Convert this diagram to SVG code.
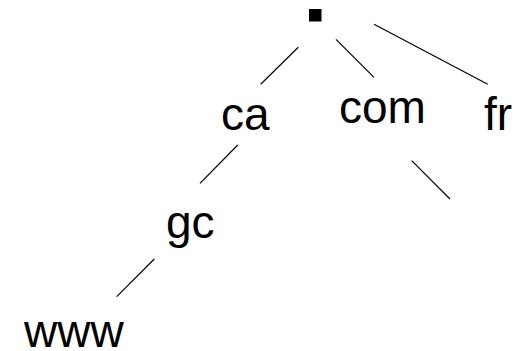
<svg xmlns="http://www.w3.org/2000/svg" width="515" height="351" viewBox="0 0 515 351">
  <style>
    .lbl { font-family: "Liberation Sans", Arial, sans-serif; font-size: 46px; fill: #000; }
    .edge { stroke: #000; stroke-width: 1.2; fill: none; }
  </style>
  <rect width="515" height="351" fill="#fff"/>
  <g id="connectors">
    <line class="edge" x1="298.3" y1="47.3" x2="260.7" y2="84.3"/>
    <line class="edge" x1="336" y1="39.3" x2="374" y2="77.3"/>
    <line class="edge" x1="374" y1="24.3" x2="487.7" y2="84.3"/>
    <line class="edge" x1="237.7" y1="145" x2="200" y2="183.3"/>
    <line class="edge" x1="154.3" y1="259" x2="116.7" y2="296.7"/>
    <line class="edge" x1="411.7" y1="160.7" x2="450" y2="199"/>
  </g>
  <g id="root"><rect x="309" y="9" width="12.5" height="12.5" fill="#000"/></g>
  <g id="ca"><text class="lbl" x="221" y="130">ca</text></g>
  <g id="com"><text class="lbl" x="339" y="123">com</text></g>
  <g id="fr"><text class="lbl" x="484" y="130">fr</text></g>
  <g id="gc"><text class="lbl" x="166" y="238">gc</text></g>
  <g id="www"><text class="lbl" x="24" y="346.5">www</text></g>
</svg>
